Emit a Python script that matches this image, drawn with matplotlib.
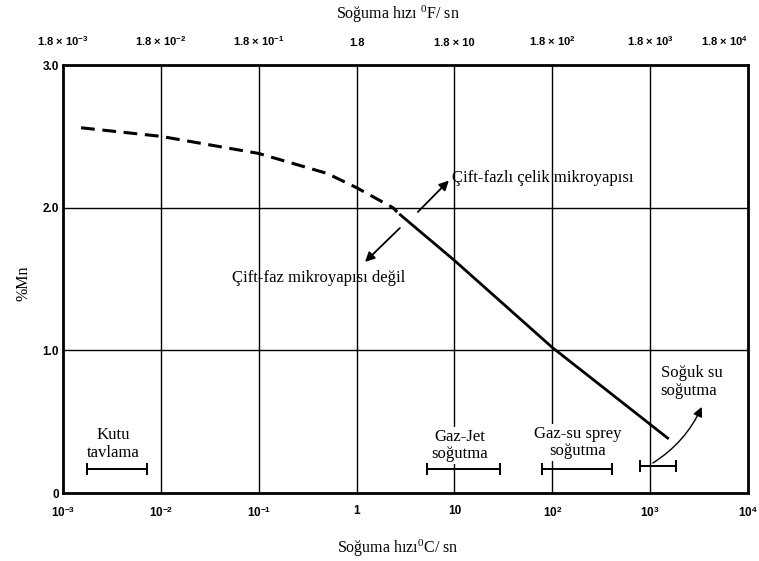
import matplotlib
matplotlib.use("Agg")
import matplotlib.pyplot as plt
import numpy as np

plt.rcParams["mathtext.fontset"] = "custom"
plt.rcParams["mathtext.rm"] = "Liberation Serif"
plt.rcParams["mathtext.bf"] = "Liberation Sans:bold"
plt.rcParams["mathtext.it"] = "Liberation Serif:italic"

# ---- data ----
dashed_x = [1.53e-3, 1e-2, 1e-1, 0.5, 1.0, 2.35, 2.6]
dashed_y = [2.56, 2.50, 2.38, 2.24, 2.14, 2.00, 1.97]
solid_x = [2.8, 10.0, 100.0, 1510.0]
solid_y = [1.95, 1.63, 1.02, 0.385]

bottom_ticks = [1e-3, 1e-2, 1e-1, 1, 10, 1e2, 1e3, 1e4]
bottom_labels = [r"10$^{\mathbf{-3}}$", r"10$^{\mathbf{-2}}$", r"10$^{\mathbf{-1}}$",
                 "1", "10", r"10$^{\mathbf{2}}$", r"10$^{\mathbf{3}}$", r"10$^{\mathbf{4}}$"]
top_labels = [r"1.8 × 10$^{\mathbf{-3}}$", r"1.8 × 10$^{\mathbf{-2}}$",
              r"1.8 × 10$^{\mathbf{-1}}$", "1.8", "1.8 × 10",
              r"1.8 × 10$^{\mathbf{2}}$", r"1.8 × 10$^{\mathbf{3}}$",
              r"1.8 × 10$^{\mathbf{4}}$"]
y_ticks = [0, 1, 2, 3]
y_labels = ["0", "1.0", "2.0", "3.0"]
grid_x = [1e-2, 1e-1, 1, 10, 1e2, 1e3]
grid_y = [1.0, 2.0]

range_names = ["Kutu\ntavlama", "Gaz-Jet\nsoğutma", "Gaz-su sprey\nsoğutma", ""]
range_lo = [1.74e-3, 5.2, 79.0, 780.0]
range_hi = [7.3e-3, 29.5, 408.0, 1850.0]
range_y = [0.17, 0.17, 0.17, 0.19]
range_label_x = [3.3e-3, 11.4, 182.0, None]
range_label_y = [0.343, 0.333, 0.354, None]

serif = ["Liberation Serif", "DejaVu Serif"]
sans = ["Liberation Sans", "DejaVu Sans"]

fig = plt.figure(figsize=(7.59, 5.61), dpi=100)
ax = fig.add_axes([63/759, 68/561, (748-63)/759, (493-65)/561])
ax.set_xscale("log")
ax.set_xlim(1e-3, 1e4)
ax.set_ylim(0, 3)

for s in ax.spines.values():
    s.set_linewidth(2.0)
    s.set_color("black")

for gx in grid_x:
    ax.axvline(gx, color="black", lw=1.0, zorder=1)
for gy in grid_y:
    ax.axhline(gy, color="black", lw=1.0, zorder=1)

ax.plot(dashed_x, dashed_y, color="black", lw=2.2, linestyle=(0, (4.5, 2.5)), zorder=3)
ax.plot(solid_x, solid_y, color="black", lw=2.0, zorder=3)

# ticks
ax.set_xticks(bottom_ticks)
ax.set_xticklabels(bottom_labels)
ax.minorticks_off()
ax.tick_params(axis="x", which="both", length=0, pad=9)
for t in ax.get_xticklabels():
    t.set_fontfamily(sans)
    t.set_fontsize(8.5)
    t.set_fontweight("bold")
ax.set_yticks(y_ticks)
ax.set_yticklabels(y_labels)
ax.tick_params(axis="y", length=0, pad=3)
for t in ax.get_yticklabels():
    t.set_fontfamily(sans)
    t.set_fontsize(8.5)
    t.set_fontweight("bold")

top = ax.secondary_xaxis("top")
top.set_xticks(bottom_ticks)
top.set_xticklabels(top_labels)
top.tick_params(axis="x", which="both", length=0, pad=12)
top.minorticks_off()
top_tls = top.get_xticklabels()
for t in top_tls:
    t.set_fontfamily(sans)
    t.set_fontsize(8)
    t.set_fontweight("bold")
top_tls[-1].set_horizontalalignment("right")
top.spines["top"].set_visible(False)

fig.text(398/759, 1 - 14/561, r"Soğuma hızı $^{0}$F/ sn", ha="center", va="center",
         family=serif, fontsize=11.5)
fig.text(398/759, 1 - 548/561, r"Soğuma hızı$^{0}$C/ sn", ha="center", va="center",
         family=serif, fontsize=11.5)
fig.text(24/759, 1 - 283/561, "%Mn", ha="center", va="center", rotation=90,
         family=serif, fontsize=11.5)

# ranges
for name, lo, hi, yy, lx, ly in zip(range_names, range_lo, range_hi, range_y,
                                    range_label_x, range_label_y):
    ax.hlines(yy, lo, hi, color="black", lw=1.4, zorder=4)
    ax.plot([lo, hi], [yy, yy], linestyle="none", marker="|", ms=9, mew=1.4,
            color="black", zorder=4)
    if name:
        ax.text(lx, ly, name, ha="center", va="center", family=serif, fontsize=12,
                linespacing=1.15, zorder=5,
                bbox=dict(facecolor="white", edgecolor="none", pad=1.5))

# annotations
arrow_kw = dict(arrowstyle="-|>", color="black", lw=1.3, mutation_scale=14,
                shrinkA=0, shrinkB=0)
ax.annotate("", xy=(8.77, 2.19), xytext=(4.23, 1.97), arrowprops=arrow_kw, zorder=5)
ax.text(9.4, 2.21, "Çift-fazlı çelik mikroyapısı", ha="left", va="center",
        family=serif, fontsize=12, zorder=5)
ax.annotate("", xy=(1.22, 1.62), xytext=(2.77, 1.857), arrowprops=arrow_kw, zorder=5)
ax.text(0.0532, 1.507, "Çift-faz mikroyapısı değil", ha="left", va="center",
        family=serif, fontsize=12, zorder=5)
ax.annotate("", xy=(3365, 0.603), xytext=(1064, 0.21),
            arrowprops=dict(arrow_kw, connectionstyle="arc3,rad=0.15", lw=1.0), zorder=5)
ax.text(1282, 0.78, "Soğuk su\nsoğutma", ha="left", va="center", family=serif,
        fontsize=12, linespacing=1.2, zorder=5)

fig.savefig("out.png", dpi=100)
